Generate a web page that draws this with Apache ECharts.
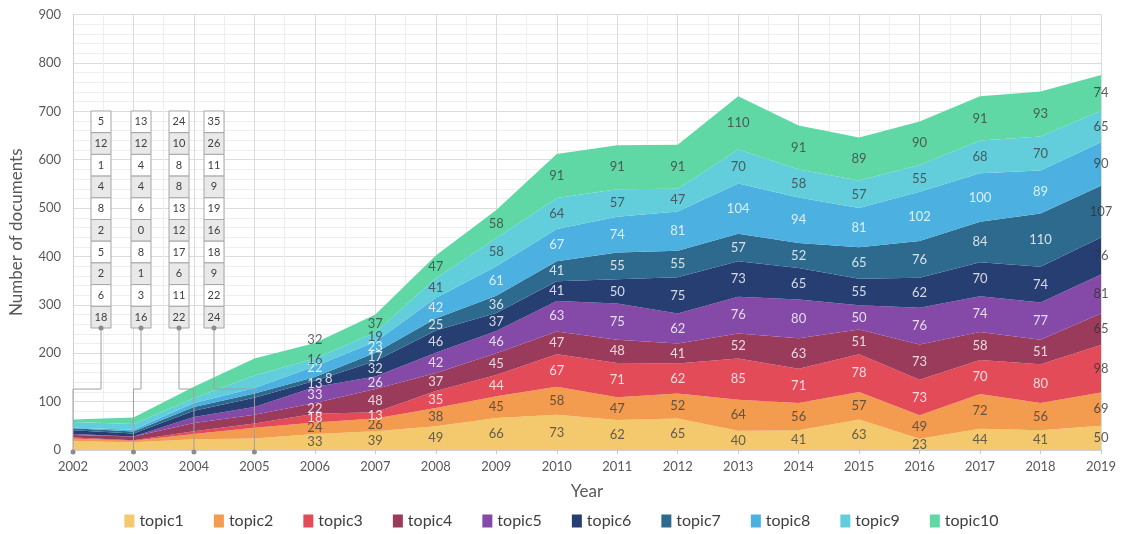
<!DOCTYPE html>
<html>
<head>
    <meta charset="utf-8">
    <title>Documents per topic</title>
    <script src="https://cdn.jsdelivr.net/npm/echarts@6/dist/echarts.min.js"></script>
</head>
<body style="margin:0;background:#fff">
<div id="main" style="width:1123px;height:534px;"></div>
<script type="text/javascript">
    // data
    var years = [2002, 2003, 2004, 2005, 2006, 2007, 2008, 2009, 2010, 2011, 2012, 2013, 2014, 2015, 2016, 2017, 2018, 2019];
    var topic1  = [18, 16, 22, 24, 33, 39, 49, 66, 73, 62, 65, 40, 41, 63, 23, 44, 41, 50];
    var topic2  = [6, 3, 11, 22, 24, 26, 38, 45, 58, 47, 52, 64, 56, 57, 49, 72, 56, 69];
    var topic3  = [2, 1, 6, 9, 18, 13, 35, 44, 67, 71, 62, 85, 71, 78, 73, 70, 80, 98];
    var topic4  = [5, 8, 17, 18, 22, 48, 37, 45, 47, 48, 41, 52, 63, 51, 73, 58, 51, 65];
    var topic5  = [2, 0, 12, 16, 33, 26, 42, 46, 63, 75, 62, 76, 80, 50, 76, 74, 77, 81];
    var topic6  = [8, 6, 13, 19, 13, 32, 46, 37, 41, 50, 75, 73, 65, 55, 62, 70, 74, 76];
    var topic7  = [4, 4, 8, 9, 8, 17, 25, 36, 41, 55, 55, 57, 52, 65, 76, 84, 110, 107];
    var topic8  = [1, 4, 8, 11, 22, 23, 42, 61, 67, 74, 81, 104, 94, 81, 102, 100, 89, 90];
    var topic9  = [12, 12, 10, 26, 16, 19, 41, 58, 64, 57, 47, 70, 58, 57, 55, 68, 70, 65];
    var topic10 = [5, 13, 24, 35, 32, 37, 47, 58, 91, 91, 91, 110, 91, 89, 90, 91, 93, 74];
    var yTicks = [0, 100, 200, 300, 400, 500, 600, 700, 800, 900];

    var topics = [topic1, topic2, topic3, topic4, topic5, topic6, topic7, topic8, topic9, topic10];
    var names = ['topic1', 'topic2', 'topic3', 'topic4', 'topic5', 'topic6', 'topic7', 'topic8', 'topic9', 'topic10'];
    var colors = ['#f4c96d', '#f39b4e', '#e34b59', '#9b3b5b', '#8549a8', '#273e73', '#2e6a8e', '#4cb0e0', '#62cedb', '#5fd8a6'];
    var labelColors = ['#404040', '#404040', '#fff', '#fff', '#fff', '#fff', '#fff', '#fff', '#404040', '#404040'];
    var firstLabelled = 4; // years before 2006 are shown in the side tables
    var calloutYears = [2002, 2003, 2004, 2005];
    var calloutX = [101, 141, 179, 214];
    // labels that were moved by hand in the original (topic index -> year index -> [dx, dy])
    var labelNudge = {9: {4: [0, -11]}, 8: {4: [0, -3]}, 7: {4: [0, -4]}, 6: {4: [14, 0]}};

    var font = 'Lato, "Noto Sans", sans-serif';
    var yearLabels = years.map(String);
    var series = [];
    var cum = years.map(function () { return 0; });

    topics.forEach(function (vals, i) {
        series.push({
            name: names[i],
            type: 'line',
            stack: 'total',
            symbol: 'none',
            lineStyle: {width: 0},
            areaStyle: {color: colors[i], opacity: 1},
            itemStyle: {color: colors[i]},
            data: vals,
            z: 2
        });
        // labels sit in the middle of each band
        var lbl = [];
        vals.forEach(function (v, j) {
            var mid = cum[j] + v / 2;
            cum[j] += v;
            if (j < firstLabelled) return;
            var nudge = (labelNudge[i] && labelNudge[i][j]) || [0, 0];
            lbl.push({
                value: [j, mid, v],
                label: {color: j === years.length - 1 ? '#333' : labelColors[i], offset: nudge}
            });
        });
        series.push({
            name: 'lbl' + i,
            type: 'scatter',
            symbolSize: 0,
            silent: true,
            data: lbl,
            z: 5,
            label: {
                show: true,
                position: 'inside',
                fontSize: 13,
                fontFamily: font,
                formatter: function (p) { return p.value[2]; }
            }
        });
    });

    var chart = echarts.init(document.getElementById('main'));
    chart.setOption({
        animation: false,
        backgroundColor: '#fff',
        grid: {left: 72, right: 22, top: 14.6, bottom: 84},
        legend: {
            data: names,
            bottom: 0,
            left: 'center',
            icon: 'rect',
            itemWidth: 10,
            itemHeight: 13,
            itemGap: 30,
            textStyle: {fontSize: 16, color: '#404040', fontFamily: font}
        },
        xAxis: [{
            type: 'category',
            data: yearLabels,
            boundaryGap: false,
            name: 'Year',
            nameLocation: 'middle',
            nameGap: 33,
            nameTextStyle: {fontSize: 17, color: '#595959', fontFamily: font},
            axisLine: {lineStyle: {color: '#d0d0d0'}},
            axisTick: {show: true, length: 4, alignWithLabel: true, lineStyle: {color: '#c8c8c8'}},
            axisLabel: {fontSize: 13, color: '#595959', fontFamily: font, margin: 10},
            splitLine: {show: false}
        }, {
            // only used to draw the vertical grid with half-year minor lines
            type: 'value',
            position: 'bottom',
            min: years[0],
            max: years[years.length - 1],
            interval: 1,
            axisLine: {show: false},
            axisTick: {show: false},
            axisLabel: {show: false},
            splitLine: {show: true, lineStyle: {color: '#dcdcdc'}},
            minorTick: {show: false, splitNumber: 2},
            minorSplitLine: {show: true, lineStyle: {color: '#eeeeee'}}
        }],
        yAxis: {
            type: 'value',
            min: yTicks[0],
            max: yTicks[yTicks.length - 1],
            interval: 100,
            name: 'Number of documents',
            nameLocation: 'middle',
            nameGap: 48,
            nameTextStyle: {fontSize: 17, color: '#595959', fontFamily: font},
            axisLine: {show: true, lineStyle: {color: '#d0d0d0'}},
            axisTick: {show: false},
            axisLabel: {fontSize: 13, color: '#595959', fontFamily: font, margin: 12},
            splitLine: {show: true, lineStyle: {color: '#dcdcdc'}},
            minorTick: {show: false, splitNumber: 5},
            minorSplitLine: {show: true, lineStyle: {color: '#eeeeee'}}
        },
        series: series
    });

    // side tables for the first four years, with leader lines to the axis
    var graphics = [];
    var boxTop = 111, cellH = 21.7, cellW = 20;
    calloutYears.forEach(function (yr, k) {
        var j = years.indexOf(yr);
        var cx = calloutX[k];
        var boxBottom = boxTop + cellH * topics.length;
        var axisPt = chart.convertToPixel({xAxisIndex: 0, yAxisIndex: 0}, [j, 0]);
        var bendY = chart.convertToPixel({yAxisIndex: 0}, 126);
        for (var m = 0; m < topics.length; m++) {
            var t = topics[topics.length - 1 - m];
            var top = boxTop + m * cellH;
            graphics.push({
                type: 'rect', z: 100,
                shape: {x: cx - cellW / 2, y: top, width: cellW, height: cellH},
                style: {fill: m % 2 ? '#e9e9e9' : '#fff', stroke: '#a6a6a6', lineWidth: 1}
            });
            graphics.push({
                type: 'text', z: 101,
                x: cx, y: top + cellH / 2,
                style: {text: String(t[j]), fontSize: 11, fill: '#404040', fontFamily: font,
                    align: 'center', verticalAlign: 'middle'}
            });
        }
        graphics.push({
            type: 'polyline', z: 99,
            shape: {points: [[cx, boxBottom], [cx, bendY], [axisPt[0], bendY], [axisPt[0], axisPt[1] + 2]]},
            style: {stroke: '#a0a0a0', lineWidth: 1, fill: null}
        });
        graphics.push({type: 'circle', z: 102, shape: {cx: cx, cy: boxBottom, r: 2.5}, style: {fill: '#8c8c8c'}});
        graphics.push({type: 'circle', z: 102, shape: {cx: axisPt[0], cy: axisPt[1] + 2, r: 2.5}, style: {fill: '#8c8c8c'}});
    });
    chart.setOption({graphic: graphics});
</script>
</body>
</html>
